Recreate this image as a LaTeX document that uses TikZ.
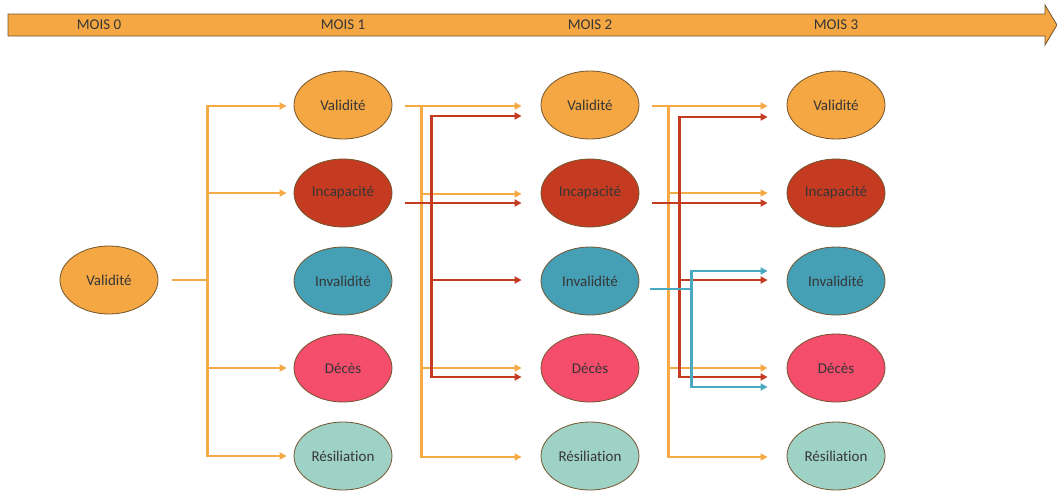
\documentclass[tikz,border=0pt]{standalone}
\usepackage{fontspec}
\setmainfont{Carlito}[Ligatures=NoCommon]
\usetikzlibrary{arrows.meta,calc,shapes.geometric}

\definecolor{cOrange}{HTML}{F4A742}
\definecolor{cOrangeLine}{HTML}{F6AA46}
\definecolor{cRed}{HTML}{C53B21}
\definecolor{cTeal}{HTML}{45A0B6}
\definecolor{cTealLine}{HTML}{4AA9C1}
\definecolor{cPink}{HTML}{F54D6C}
\definecolor{cMint}{HTML}{9FD2C6}
\definecolor{cBorder}{HTML}{74552E}
\definecolor{cText}{HTML}{363636}

\begin{document}
\begin{tikzpicture}[x=1pt,y=-1pt,
  state/.style={ellipse, draw=cBorder, line width=0.8pt, minimum width=98pt,
    minimum height=68pt, inner sep=0pt, text=cText, font=\fontsize{15}{18}\selectfont},
  valid/.style={state, fill=cOrange},
  incap/.style={state, fill=cRed},
  inval/.style={state, fill=cTeal},
  deces/.style={state, fill=cPink},
  resil/.style={state, fill=cMint},
  month/.style={text=cText, font=\fontsize{15}{18}\selectfont, inner sep=0pt},
  tip/.style={-{Triangle[length=7pt,width=7pt]}},
  olink/.style={draw=cOrangeLine, line width=2.2pt},
  rlink/.style={draw=cRed, line width=2.2pt},
  tlink/.style={draw=cTealLine, line width=2.2pt},
  oarrow/.style={olink, tip},
  rarrow/.style={rlink, tip},
  tarrow/.style={tlink, tip}]

\useasboundingbox (0,0) rectangle (1057,493);

% time axis
\fill[cOrange, draw=cBorder, line width=0.8pt]
  (8,14) -- (1045,14) -- (1045,5) -- (1057,25) -- (1045,45) -- (1045,36) -- (8,36) -- cycle;
\node[month] (m0) at (99,25) {MOIS 0};
\node[month] (m1) at (343,25) {MOIS 1};
\node[month] (m2) at (590,25) {MOIS 2};
\node[month] (m3) at (836,25) {MOIS 3};

% states
\node[valid] (v0) at (109,280) {Validité};

\node[valid] (v1) at (343,105) {Validité};
\node[incap] (i1) at (343,193) {Incapacité};
\node[inval] (n1) at (343,281) {Invalidité};
\node[deces] (d1) at (343,368) {Décès};
\node[resil] (r1) at (343,456) {Résiliation};

\node[valid] (v2) at (590,105) {Validité};
\node[incap] (i2) at (590,193) {Incapacité};
\node[inval] (n2) at (590,281) {Invalidité};
\node[deces] (d2) at (590,368) {Décès};
\node[resil] (r2) at (590,456) {Résiliation};

\node[valid] (v3) at (836,105) {Validité};
\node[incap] (i3) at (836,193) {Incapacité};
\node[inval] (n3) at (836,281) {Invalidité};
\node[deces] (d3) at (836,368) {Décès};
\node[resil] (r3) at (836,456) {Résiliation};

% month 0 -> month 1
\coordinate (ot0) at ($(v0.east)+(49,0)$);
\draw[olink] ($(v0.east)+(14,0)$) -- (ot0);
\draw[oarrow] (ot0) |- ($(v1.west)+(-7,1)$);
\draw[oarrow] (ot0) |- ($(i1.west)+(-7,0)$);
\draw[oarrow] (ot0) |- ($(d1.west)+(-7,0)$);
\draw[oarrow] (ot0) |- ($(r1.west)+(-7,0)$);

% month 1 -> month 2
\coordinate (ot1) at ($(v1.east)+(29,1)$);
\draw[oarrow] ($(v1.east)+(13,1)$) -- ($(v2.west)+(-19,1)$);
\draw[oarrow] (ot1) |- ($(i2.west)+(-19,1)$);
\draw[oarrow] (ot1) |- ($(d2.west)+(-19,0)$);
\draw[oarrow] (ot1) |- ($(r2.west)+(-19,1)$);
\coordinate (rt1) at ($(i1.east)+(39,10)$);
\draw[rarrow] ($(i1.east)+(13,10)$) -- ($(i2.west)+(-19,10)$);
\draw[rarrow] (rt1) |- ($(v2.west)+(-19,11)$);
\draw[rarrow] (rt1) |- ($(n2.west)+(-19,-1)$);
\draw[rarrow] (rt1) |- ($(d2.west)+(-19,9)$);

% month 2 -> month 3
\coordinate (ot2) at ($(v2.east)+(29,1)$);
\draw[oarrow] ($(v2.east)+(13,1)$) -- ($(v3.west)+(-19,1)$);
\draw[oarrow] (ot2) |- ($(i3.west)+(-19,0)$);
\draw[oarrow] (ot2) |- ($(d3.west)+(-19,0)$);
\draw[oarrow] (ot2) |- ($(r3.west)+(-19,1)$);
\coordinate (rt2) at ($(i2.east)+(40,10)$);
\draw[rarrow] ($(i2.east)+(13,10)$) -- ($(i3.west)+(-19,10)$);
\draw[rarrow] (rt2) |- ($(v3.west)+(-19,12)$);
\draw[rarrow] (rt2) |- ($(n3.west)+(-19,-1)$);
\draw[rarrow] (rt2) |- ($(d3.west)+(-19,9)$);
\coordinate (tt2) at ($(n2.east)+(52,8)$);
\draw[tlink] ($(n2.east)+(11,8)$) -- (tt2);
\draw[tarrow] (tt2) |- ($(n3.west)+(-19,-10)$);
\draw[tarrow] (tt2) |- ($(d3.west)+(-19,19)$);

\end{tikzpicture}
\end{document}
